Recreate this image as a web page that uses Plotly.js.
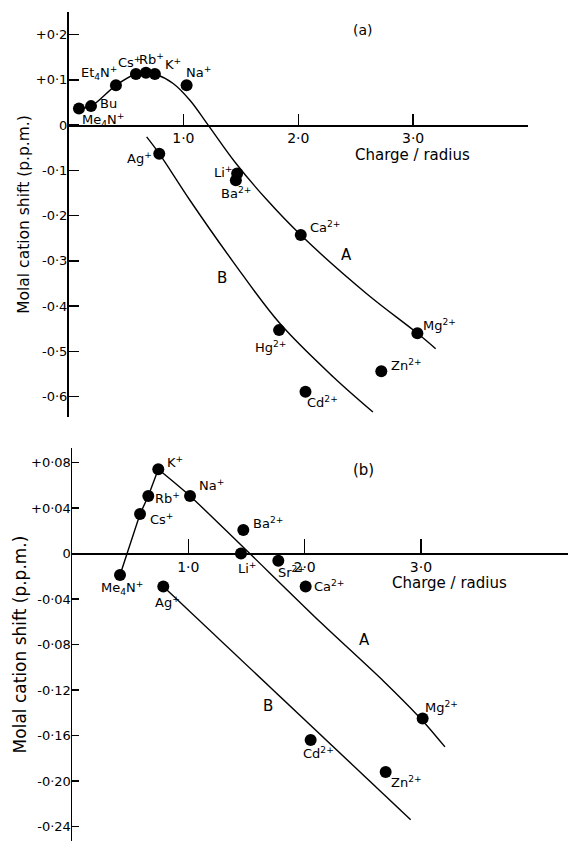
<!DOCTYPE html>
<html>
<head>
<meta charset="utf-8">
<script src="https://cdn.plot.ly/plotly-3.0.1.min.js"></script>
<style>html,body{margin:0;padding:0;background:#fff;}#chart{width:568px;height:841px;}</style>
</head>
<body>
<div id="chart"></div>
<script>
// ---------- Panel (a) data ----------
const aIons   = ['Me4N+','Bu','Et4N+','Cs+','Rb+','K+','Na+','Ag+','Li+','Ba2+','Ca2+','Mg2+','Hg2+','Zn2+','Cd2+'];
const aLabels = ['Me<sub>4</sub>N<sup>+</sup>','Bu','Et<sub>4</sub>N<sup>+</sup>','Cs<sup>+</sup>','Rb<sup>+</sup>','K<sup>+</sup>','Na<sup>+</sup>','Ag<sup>+</sup>','Li<sup>+</sup>','Ba<sup>2+</sup>','Ca<sup>2+</sup>','Mg<sup>2+</sup>','Hg<sup>2+</sup>','Zn<sup>2+</sup>','Cd<sup>2+</sup>'];
const aX = [0.091,0.196,0.413,0.587,0.674,0.752,1.028,0.790,1.468,1.457,2.022,3.037,1.833,2.723,2.063];
const aY = [0.037,0.042,0.088,0.113,0.116,0.113,0.088,-0.063,-0.107,-0.122,-0.243,-0.460,-0.453,-0.544,-0.589];
// hand-drawn curves
const aCurveAX = [0.091,0.196,0.413,0.587,0.674,0.752,0.911,1.057,1.216,1.450,1.723,2.022,2.593,3.037,3.196];
const aCurveAY = [0.037,0.042,0.088,0.113,0.116,0.113,0.092,0.055,0.000,-0.082,-0.164,-0.243,-0.372,-0.460,-0.494];
const aCurveBX = [0.680,0.790,1.057,1.433,1.839,2.303,2.650];
const aCurveBY = [-0.026,-0.063,-0.166,-0.302,-0.438,-0.556,-0.634];
const aYTickVals = [0.2,0.1,0,-0.1,-0.2,-0.3,-0.4,-0.5,-0.6];
const aYTickText = ['+0·2','+0·1','0','-0·1','-0·2','-0·3','-0·4','-0·5','-0·6'];

// ---------- Panel (b) data ----------
const bIons   = ['Me4N+','Cs+','Rb+','K+','Na+','Ba2+','Li+','Sr2+','Ca2+','Ag+','Mg2+','Cd2+','Zn2+'];
const bLabels = ['Me<sub>4</sub>N<sup>+</sup>','Cs<sup>+</sup>','Rb<sup>+</sup>','K<sup>+</sup>','Na<sup>+</sup>','Ba<sup>2+</sup>','Li<sup>+</sup>','Sr<sup>2+</sup>','Ca<sup>2+</sup>','Ag<sup>+</sup>','Mg<sup>2+</sup>','Cd<sup>2+</sup>','Zn<sup>2+</sup>'];
const bX = [0.413,0.585,0.656,0.742,1.015,1.473,1.453,1.774,2.009,0.785,3.015,2.052,2.697];
const bY = [-0.0189,0.0347,0.0505,0.074,0.0505,0.0207,0.0,-0.0063,-0.029,-0.029,-0.145,-0.164,-0.192];
const bLine0X = [0.413,0.585,0.656,0.742];
const bLine0Y = [-0.0189,0.0347,0.0505,0.074];
const bLineAX = [0.742,1.015,2.132,2.677,3.015,3.207];
const bLineAY = [0.074,0.0505,-0.060,-0.112,-0.147,-0.170];
const bLineBX = [0.785,2.247,2.912];
const bLineBY = [-0.029,-0.170,-0.234];
const bYTickVals = [0.08,0.04,0,-0.04,-0.08,-0.12,-0.16,-0.20,-0.24];
const bYTickText = ['+0·08','+0·04','0','-0·04','-0·08','-0·12','-0·16','-0·20','-0·24'];

const xTickVals = [1,2,3];
const xTickText = ['1·0','2·0','3·0'];

// ---------- styling / placement (not data) ----------
const aLabelShift = [[24,-12],[17,3],[-17,12],[-6,12],[6,14],[18,10],[12,13],[-20,-4],[-14,2],[0,-13],[24,8],[22,8],[-9,-17],[25,6],[17,-10]];
const bLabelShift = [[2,-13],[21,-5],[19,-2],[17,7],[21,11],[25,7],[6,-15],[13,-11],[23,0],[4,-16],[19,11],[8,-13],[21,-10]];

const FONT = 'DejaVu Sans, Liberation Sans, Arial, sans-serif';
const W = 568, H = 841;

const aXDom = [68.5/W, 528/W], aXRange = [0, 4];
const aYDom = [1-417/H, 1-12/H], aYRange = [-0.645, 0.25];
const bXDom = [72/W, 1], bXRange = [0, (W-72)/116.3];
const bYDom = [0, 1-448/H], bYRange = [-0.2527, 0.0927];

function zeroPos(dom, rng){ return dom[0] + (0-rng[0])/(rng[1]-rng[0])*(dom[1]-dom[0]); }

const lineStyle = {color:'#000', width:1.4};
const traces = [
  {x:aCurveAX, y:aCurveAY, xaxis:'x', yaxis:'y', mode:'lines', line:Object.assign({shape:'spline', smoothing:1}, lineStyle), hoverinfo:'skip'},
  {x:aCurveBX, y:aCurveBY, xaxis:'x', yaxis:'y', mode:'lines', line:Object.assign({shape:'spline', smoothing:1}, lineStyle), hoverinfo:'skip'},
  {x:aX, y:aY, text:aIons, xaxis:'x', yaxis:'y', mode:'markers', marker:{color:'#000', size:12}, cliponaxis:false},
  {x:bLine0X, y:bLine0Y, xaxis:'x2', yaxis:'y2', mode:'lines', line:lineStyle, hoverinfo:'skip'},
  {x:bLineAX, y:bLineAY, xaxis:'x2', yaxis:'y2', mode:'lines', line:Object.assign({shape:'spline', smoothing:0.6}, lineStyle), hoverinfo:'skip'},
  {x:bLineBX, y:bLineBY, xaxis:'x2', yaxis:'y2', mode:'lines', line:lineStyle, hoverinfo:'skip'},
  {x:bX, y:bY, text:bIons, xaxis:'x2', yaxis:'y2', mode:'markers', marker:{color:'#000', size:12}, cliponaxis:false}
];

const annotations = [];
function addLabels(xs, ys, labels, shifts, xr, yr){
  for (let i=0;i<xs.length;i++){
    annotations.push({x:xs[i], y:ys[i], xref:xr, yref:yr, text:labels[i], showarrow:false,
      xshift:shifts[i][0], yshift:shifts[i][1], font:{family:FONT, size:13, color:'#000'}});
  }
}
addLabels(aX, aY, aLabels, aLabelShift, 'x', 'y');
addLabels(bX, bY, bLabels, bLabelShift, 'x2', 'y2');

const bigFont = {family:FONT, size:15, color:'#000'};
annotations.push(
  {x:2.419, y:-0.287, xref:'x', yref:'y', text:'A', showarrow:false, font:bigFont},
  {x:1.332, y:-0.337, xref:'x', yref:'y', text:'B', showarrow:false, font:bigFont},
  {x:2.513, y:-0.076, xref:'x2', yref:'y2', text:'A', showarrow:false, font:bigFont},
  {x:1.688, y:-0.134, xref:'x2', yref:'y2', text:'B', showarrow:false, font:bigFont},
  {x:363/W, y:1-20/H, xref:'paper', yref:'paper', text:'(a)', showarrow:false, font:{family:FONT, size:14, color:'#000'}},
  {x:363/W, y:1-470/H, xref:'paper', yref:'paper', text:'(b)', showarrow:false, font:{family:FONT, size:15, color:'#000'}},
  {x:2.996, y:-0.066, xref:'x', yref:'y', text:'Charge / radius', showarrow:false, font:bigFont},
  {x:3.25, y:-0.026, xref:'x2', yref:'y2', text:'Charge / radius', showarrow:false, font:bigFont}
);

function xAxis(dom, rng, yDom, yRng, ticklen){
  return {domain:dom, range:rng, anchor:'free', position:zeroPos(yDom, yRng),
    showgrid:false, zeroline:false, showline:true, linecolor:'#000', linewidth:1.5,
    ticks:'inside', ticklen:ticklen, tickwidth:1.3, tickcolor:'#000',
    tickvals:xTickVals, ticktext:xTickText, tickfont:{family:FONT, size:14, color:'#000'},
    automargin:false, fixedrange:true};
}
function yAxis(dom, rng, anchorX, vals, text, ticklen, fsize, tsize, standoff){
  return {domain:dom, range:rng, anchor:anchorX,
    showgrid:false, zeroline:false, showline:true, linecolor:'#000', linewidth:1.5,
    ticks:'inside', ticklen:ticklen, tickwidth:1.3, tickcolor:'#000', ticklabelstandoff:-3,
    tickvals:vals, ticktext:text, tickfont:{family:FONT, size:fsize, color:'#000'},
    title:{text:'Molal cation shift (p.p.m.)', font:{family:FONT, size:tsize, color:'#000'}, standoff:standoff},
    automargin:false, fixedrange:true};
}

const layout = {
  width:W, height:H, margin:{l:0, r:0, t:0, b:0},
  paper_bgcolor:'#fff', plot_bgcolor:'rgba(0,0,0,0)', showlegend:false,
  xaxis:  xAxis(aXDom, aXRange, aYDom, aYRange, 11),
  yaxis:  yAxis(aYDom, aYRange, 'x', aYTickVals, aYTickText, 10, 13, 15.5, 2),
  xaxis2: xAxis(bXDom, bXRange, bYDom, bYRange, 14),
  yaxis2: yAxis(bYDom, bYRange, 'x2', bYTickVals, bYTickText, 7, 13, 17, 0),
  annotations: annotations
};

Plotly.newPlot('chart', traces, layout, {displayModeBar:false, staticPlot:true});
</script>
</body>
</html>
